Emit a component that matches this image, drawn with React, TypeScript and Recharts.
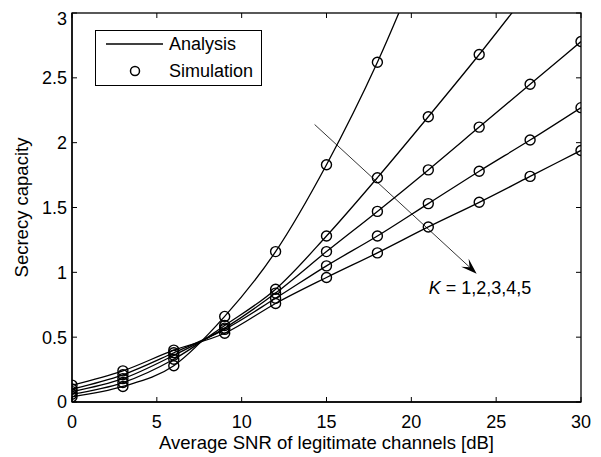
import { LineChart, Line, XAxis, YAxis, ReferenceLine } from 'recharts'

const snr = [0, 3, 6, 9, 12, 15, 18, 21, 24, 27, 30]
const k1 = [0.04, 0.12, 0.28, 0.66, 1.16, 1.83, 2.62, 3.55, 4.55, 5.6, 6.65]
const k2 = [0.06, 0.15, 0.33, 0.59, 0.87, 1.28, 1.73, 2.2, 2.68, 3.18, 3.68]
const k3 = [0.08, 0.18, 0.36, 0.57, 0.84, 1.16, 1.47, 1.79, 2.12, 2.45, 2.78]
const k4 = [0.1, 0.21, 0.38, 0.56, 0.8, 1.05, 1.28, 1.53, 1.78, 2.02, 2.27]
const k5 = [0.13, 0.24, 0.4, 0.53, 0.76, 0.96, 1.15, 1.35, 1.54, 1.74, 1.94]

const xTicks = [0, 5, 10, 15, 20, 25, 30]
const yTicks = [0, 0.5, 1, 1.5, 2, 2.5, 3]
const xDomain = [0, 30]
const yDomain = [0, 3]

// arrow annotation, data coords
const arrowFrom = { x: 14.3, y: 2.14 }
const arrowTo = { x: 23.85, y: 0.99 }

const series = [k1, k2, k3, k4, k5]
const data = snr.map((s, i) => {
  const row: Record<string, number> = { snr: s }
  series.forEach((arr, k) => { row['k' + (k + 1)] = arr[i] })
  return row
})

const FONT = '"Liberation Sans", Arial, sans-serif'
const FS = 18
const tickStyle = { fontSize: FS, fill: '#000', fontFamily: FONT }
const TICK = 5

// arrow + label; also draws the matlab-style box with inward ticks,
// mapping data -> px from the two scaled arrow end points
function ArrowShape(p: any) {
  const x1 = Number(p.x1), y1 = Number(p.y1), x2 = Number(p.x2), y2 = Number(p.y2)
  if (!isFinite(x1) || !isFinite(y2)) return null
  const ang = Math.atan2(y2 - y1, x2 - x1)
  const L = 16, W = 5.5
  const bx = x2 - L * Math.cos(ang), by = y2 - L * Math.sin(ang)
  const nx = -Math.sin(ang), ny = Math.cos(ang)
  const ix = x2 - L * 0.6 * Math.cos(ang), iy = y2 - L * 0.6 * Math.sin(ang)

  const sx = (x2 - x1) / (arrowTo.x - arrowFrom.x)
  const sy = (y2 - y1) / (arrowTo.y - arrowFrom.y)
  const px = (v: number) => x1 + (v - arrowFrom.x) * sx
  const py = (v: number) => y1 + (v - arrowFrom.y) * sy
  const left = px(xDomain[0]), right = px(xDomain[1])
  const top = py(yDomain[1]), bottom = py(yDomain[0])

  return (
    <g>
      <g stroke="#000" fill="none">
        <rect x={left} y={top} width={right - left} height={bottom - top} strokeWidth={1.3} />
        {xTicks.map((t) => (
          <g key={'x' + t} strokeWidth={1}>
            <line x1={px(t)} y1={top} x2={px(t)} y2={top + TICK} />
            <line x1={px(t)} y1={bottom} x2={px(t)} y2={bottom - TICK} />
          </g>
        ))}
        {yTicks.map((t) => (
          <g key={'y' + t} strokeWidth={1}>
            <line x1={left} y1={py(t)} x2={left + TICK} y2={py(t)} />
            <line x1={right} y1={py(t)} x2={right - TICK} y2={py(t)} />
          </g>
        ))}
      </g>
      <line x1={x1} y1={y1} x2={ix} y2={iy} stroke="#000" strokeWidth={0.8} />
      <polygon
        points={`${x2},${y2} ${bx + nx * W},${by + ny * W} ${ix},${iy} ${bx - nx * W},${by - ny * W}`}
        fill="#000"
      />
      <text x={x2 - 48} y={y2 + 20} fontFamily={FONT} fontSize={FS} fill="#000">
        <tspan fontStyle="italic">K</tspan> = 1,2,3,4,5
      </text>
    </g>
  )
}

function LegendBox() {
  return (
    <svg width={167} height={56} style={{ position: 'absolute', left: 87, top: 22 }}>
      <rect x={0.5} y={0.5} width={166} height={55} fill="#fff" stroke="#000" strokeWidth={1} />
      <line x1={11} y1={14} x2={68} y2={14} stroke="#000" strokeWidth={1.3} />
      <circle cx={40} cy={41} r={4.5} fill="none" stroke="#000" strokeWidth={1.5} />
      <text x={74} y={20} fontFamily={FONT} fontSize={FS}>Analysis</text>
      <text x={74} y={47} fontFamily={FONT} fontSize={FS}>Simulation</text>
    </svg>
  )
}

export default function App() {
  return (
    <div style={{ position: 'relative', width: 585, height: 449 }}>
      <LineChart width={585} height={449} data={data} margin={{ top: 5, right: 12, bottom: 0, left: 0 }}>
        <XAxis
          dataKey="snr" type="number" domain={xDomain} ticks={xTicks} allowDataOverflow
          tick={tickStyle} stroke="#000" strokeWidth={1.3} tickLine={false} tickSize={0} tickMargin={13} height={55}
          label={{ value: 'Average SNR of legitimate channels [dB]', position: 'insideBottom', offset: 8, style: { ...tickStyle, fontSize: 18.5 } }}
        />
        <YAxis
          type="number" domain={yDomain} ticks={yTicks} allowDataOverflow
          tick={tickStyle} stroke="#000" strokeWidth={1.3} tickLine={false} tickSize={0} tickMargin={5} width={64}
          label={{ value: 'Secrecy capacity', angle: -90, position: 'insideLeft', offset: 13, style: { ...tickStyle, fontSize: 18.5, textAnchor: 'middle' } }}
        />
        {['k1', 'k2', 'k3', 'k4', 'k5'].map((k) => (
          <Line
            key={k} dataKey={k} type="monotone"
            stroke="#000" strokeWidth={1.3} isAnimationActive={false}
            dot={{ r: 5, fill: 'none', stroke: '#000', strokeWidth: 1.4 }}
            activeDot={false}
          />
        ))}
        <ReferenceLine
          ifOverflow="visible"
          segment={[arrowFrom, arrowTo]}
          shape={ArrowShape}
        />
      </LineChart>
      <LegendBox />
    </div>
  )
}
